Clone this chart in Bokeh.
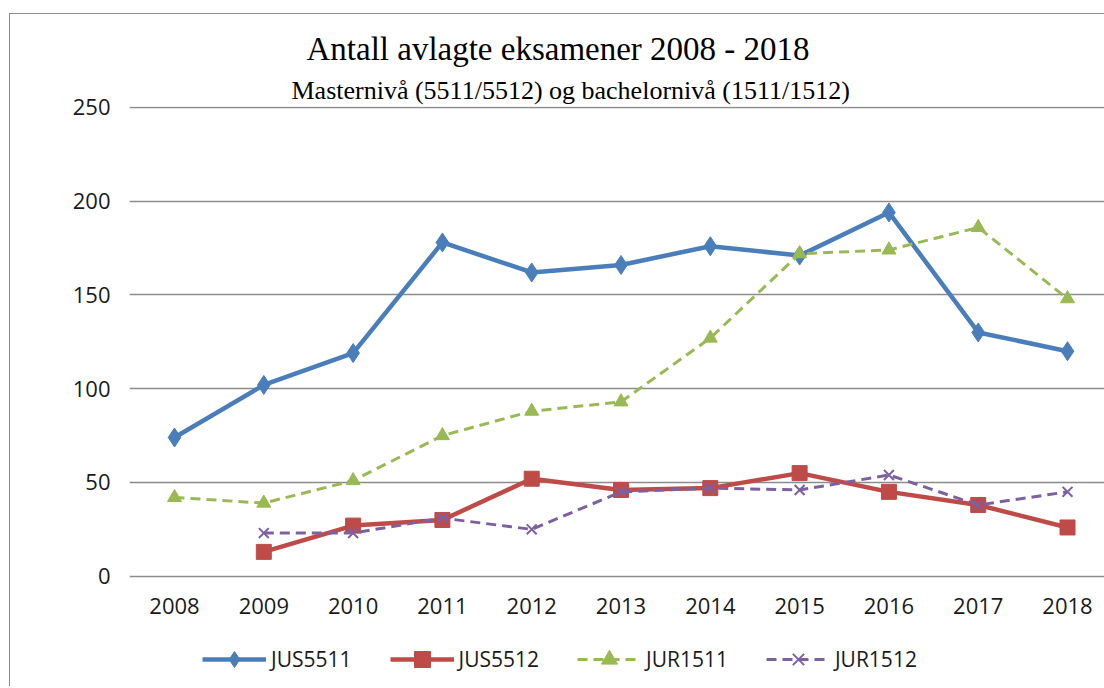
import numpy as np
from bokeh.plotting import figure
from bokeh.models import (Range1d, FixedTicker, Legend, LegendItem, Title, ColumnDataSource, LabelSet)
from bokeh.core.properties import value
from bokeh.embed import file_html
from bokeh.resources import INLINE

years = [2008, 2009, 2010, 2011, 2012, 2013, 2014, 2015, 2016, 2017, 2018]
jus5511 = [74, 102, 119, 178, 162, 166, 176, 171, 194, 130, 120]
jus5512 = [None, 13, 27, 30, 52, 46, 47, 55, 45, 38, 26]
jur1511 = [42, 39, 51, 75, 88, 93, 127, 172, 174, 186, 148]
jur1512 = [None, 23, 23, 31, 25, 45, 47, 46, 54, 38, 45]
y_ticks = [0, 50, 100, 150, 200, 250]
year_labels = [str(y) for y in years]
title_text = "Antall avlagte eksamener 2008 - 2018"
subtitle_text = "Masternivå (5511/5512) og bachelornivå (1511/1512)"

def arr(v):
    return np.array([np.nan if x is None else x for x in v], dtype=float)

src = ColumnDataSource(dict(
    x=years, a=arr(jus5511), b=arr(jus5512), c=arr(jur1511), d=arr(jur1512)))

p = figure(frame_width=975, frame_height=580, output_backend="svg", toolbar_location=None,
           x_range=Range1d(2007.496, 2018.414), y_range=Range1d(-58.8, 250.5),
           min_border_left=119, min_border_right=0, min_border_top=92,
           min_border_bottom=0)
p.margin = (13, 0, 0, 9)
p.styles = {"border-left": "1px solid #8c8c8c", "border-top": "1px solid #8c8c8c"}
p.outline_line_color = None
p.background_fill_color = "white"
p.border_fill_color = "white"

p.xgrid.visible = False
p.ygrid.ticker = FixedTicker(ticks=y_ticks)
p.ygrid.grid_line_color = "#8c8c8c"
p.ygrid.grid_line_width = 1.5

p.xaxis.visible = False
p.yaxis.axis_line_color = None
p.yaxis.major_tick_line_color = None
p.yaxis.minor_tick_line_color = None
p.yaxis.major_label_text_font = "Open Sans"
p.yaxis.major_label_text_font_size = "22px"
p.yaxis.major_label_text_color = "#1a1a1a"
p.yaxis.ticker = FixedTicker(ticks=y_ticks)
p.yaxis.major_label_standoff = 13

# category (year) labels under the zero line, placed through the data scales
lab_src = ColumnDataSource(dict(x=years, y=[-16] * len(years), t=year_labels))
p.add_layout(LabelSet(x="x", y="y", text="t", source=lab_src, text_align="center",
                      text_baseline="middle", text_font=value("Open Sans"),
                      text_font_size=value("22px"), text_color="#1a1a1a"))

blue, red, green, purple = "#4A7EBB", "#BE4B48", "#98B954", "#7D60A0"

l1 = p.line("x", "a", source=src, line_color=blue, line_width=4.5)
s1 = p.scatter("x", "a", source=src, marker="diamond", size=19, color=blue)
l2 = p.line("x", "b", source=src, line_color=red, line_width=4.5)
s2 = p.scatter("x", "b", source=src, marker="square", size=15, color=red)
l3 = p.line("x", "c", source=src, line_color=green, line_width=3, line_dash="10 6")
s3 = p.scatter("x", "c", source=src, marker="triangle", size=14, color=green)
l4 = p.line("x", "d", source=src, line_color=purple, line_width=3, line_dash="10 6")
s4 = p.scatter("x", "d", source=src, marker="x", size=14, line_color=purple, line_width=2)

legend = Legend(items=[
    LegendItem(label="JUS5511", renderers=[l1, s1]),
    LegendItem(label="JUS5512", renderers=[l2, s2]),
    LegendItem(label="JUR1511", renderers=[l3, s3]),
    LegendItem(label="JUR1512", renderers=[l4, s4]),
], orientation="horizontal", location=(73, 7), glyph_width=64, glyph_height=40,
    label_standoff=5, spacing=38, padding=0, margin=0,
    border_line_color=None, background_fill_alpha=0,
    label_text_font="Open Sans", label_text_font_size="21px", label_text_color="#1a1a1a")
p.add_layout(legend, "center")

sub = Title(text=subtitle_text, align="left", offset=162, standoff=3,
            text_font="Liberation Serif", text_font_size="26px",
            text_font_style="normal", text_color="#000000")
main = Title(text=title_text, align="left", offset=177, standoff=11,
             text_font="Liberation Serif", text_font_size="33px",
             text_font_style="normal", text_color="#000000")
p.add_layout(sub, "above")
p.add_layout(main, "above")

open("out.html", "w").write(file_html(p, INLINE))
